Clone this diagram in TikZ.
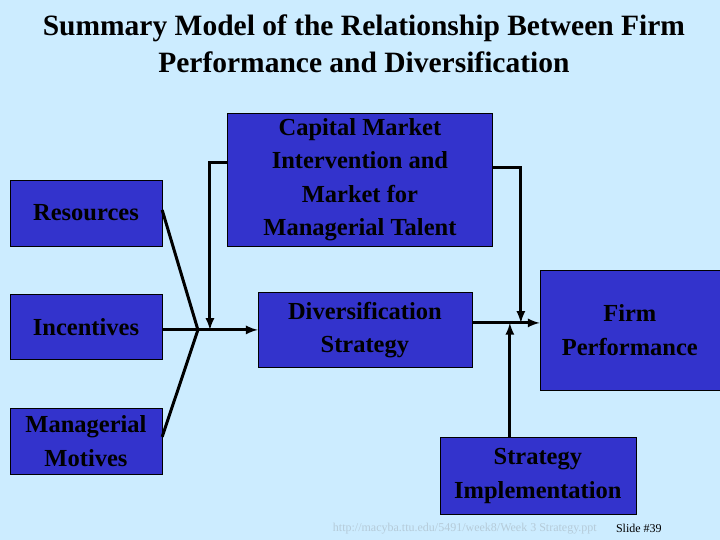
\documentclass[tikz,border=0pt]{standalone}
\usepackage{fontspec}
\setmainfont{Liberation Serif}
\begin{document}
\begin{tikzpicture}
    [
    x=1pt,y=-1pt,
    box/.style={draw=black,fill=boxblue,inner sep=0pt,align=center,font=\bfseries\fontsize{24.5}{33.5}\selectfont},
    link/.style={line width=3pt},
    tip/.style={link,-latex}
    ]
    \definecolor{boxblue}{RGB}{51,51,204}
    \definecolor{bgblue}{RGB}{204,236,255}
    \fill [bgblue] (0,0) rectangle (720,540);
    \node (title) at (364,44) [align=center,font=\bfseries\fontsize{29.5}{37}\selectfont] {Summary Model of the Relationship Between Firm\\Performance and Diversification};

    \node (res) at (86,213) [box,minimum width=152,minimum height=66] {Resources};
    \node (inc) at (86,327) [box,minimum width=152,minimum height=65] {Incentives};
    \node (mot) at (86,441) [box,minimum width=152,minimum height=66] {Managerial\\Motives};
    \node (cap) at (360,180) [box,minimum width=265,minimum height=133] {Capital Market\\Intervention and\\Market for\\Managerial Talent};
    \node (div) at (365,330) [box,minimum width=214,minimum height=75] {Diversification\\Strategy};
    \node (firm) at (630,330) [box,minimum width=180,minimum height=120] {Firm\\Performance};
    \node (impl) at (538,476) [box,minimum width=196,minimum height=77] {Strategy\\Implementation};

    \coordinate (join) at (198,330);
    \coordinate (meet) at (510,323);
    \draw [link] (res.east |- 0,210) -- (join) -- (mot.east |- 0,437);
    \draw [tip] (inc.east |- join) -- (div.west |- join);
    \draw [tip] (cap.west |- 0,163) -| (210,330);
    \draw [tip] (div.east |- meet) -- (firm.west |- meet);
    \draw [tip] (cap.east |- 0,168) -| (521,323);
    \draw [tip] (impl.north -| meet) -- (meet);

    \node (url) at (465,529) [font=\fontsize{12}{13}\selectfont,text=bgblue!70!gray] {http://macyba.ttu.edu/5491/week8/Week 3 Strategy.ppt};
    \node (slide) at (639,529) [font=\fontsize{12}{13}\selectfont] {Slide \#39};
\end{tikzpicture}
\end{document}
